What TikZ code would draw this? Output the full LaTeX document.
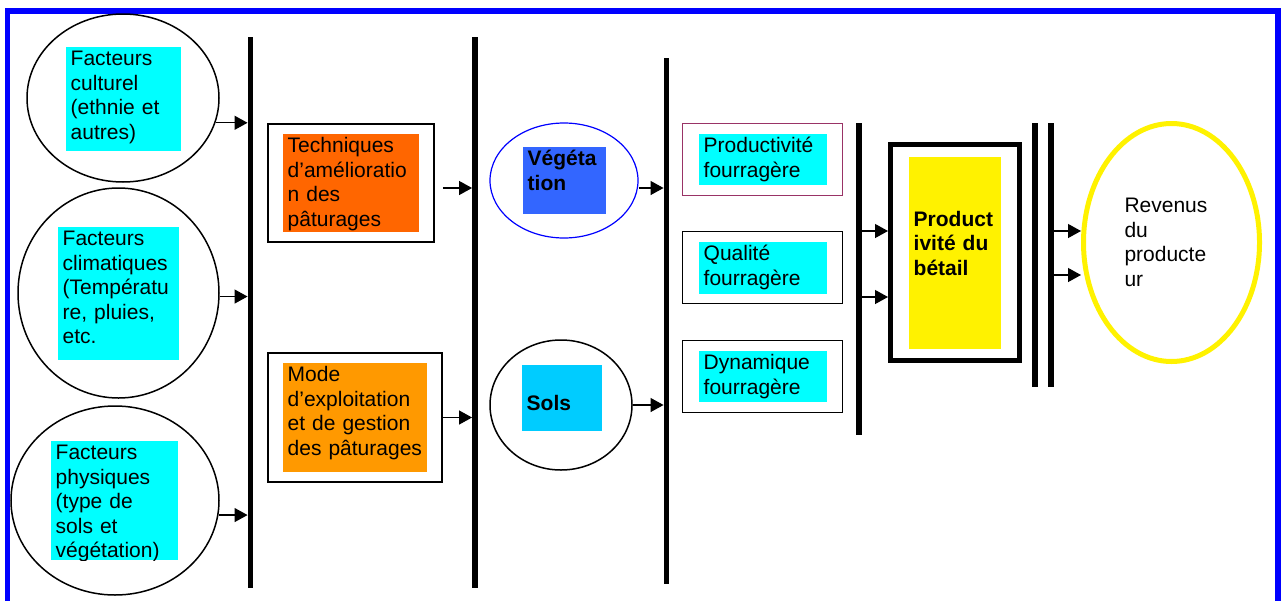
\documentclass[tikz,border=0pt]{standalone}
\usepackage{fontspec}
\setmainfont{Liberation Sans}
\usetikzlibrary{arrows.meta,shapes.geometric}
\definecolor{lblcyan}{RGB}{0,255,255}
\definecolor{techorange}{RGB}{255,102,0}
\definecolor{modeorange}{RGB}{255,153,0}
\definecolor{vegblue}{RGB}{51,102,255}
\definecolor{solsblue}{RGB}{0,204,255}
\definecolor{prodmaroon}{RGB}{153,51,102}
\def\diagfont{\fontsize{21}{24.5}\selectfont}
\hyphenpenalty=10000
\tikzset{
	lbl/.style={anchor=north west, fill=lblcyan, inner xsep=4.5pt, inner ysep=3.5pt, align=left, text height=15pt, font=\diagfont},
	boxframe/.style={draw, line width=1.8pt, inner sep=0pt},
	oval/.style={draw, ellipse, line width=1.5pt, inner sep=0pt},
	vbar/.style={fill=black, inner sep=0pt, minimum width=5.5pt},
	arr/.style={line width=1.2pt, -{Triangle[length=13pt,width=14pt]}}
}

\begin{document}
\begin{tikzpicture}[x=1pt,y=-1pt]
			%%%%% START %%%%%
			\useasboundingbox (0,0) rectangle (1284,600);
			\clip (0,0) rectangle (1284,600);
			
			\draw[line width=5.5pt, color=blue] (7.5,620) |- (1278,11) -- (1278,620);
			
			\node[oval, minimum width=192pt, minimum height=168pt] (cultell) at (123,98) {};
			\node[lbl, text width=106pt, text depth=82pt] (cult) at (66,47) {Facteurs\\culturel\\(ethnie et\\autres)};
			
			\node[oval, minimum width=201pt, minimum height=210pt] (climell) at (118.5,293) {};
			\node[lbl, text width=112pt, text depth=111pt] (clim) at (58,227) {Facteurs\\climatiques\\(Températu\\re, pluies,\\etc.};
			
			\node[oval, minimum width=208pt, minimum height=189pt] (physell) at (115,500.5) {};
			\begin{scope}
				\clip (51,441) rectangle (178,560);
				\node[lbl, text width=118pt, text depth=97pt] (phys) at (51,441) {Facteurs\\physiques\\(type de\\sols et\\végétation)};
			\end{scope}
			
			\node[vbar, minimum height=551pt] (b1) at (250.5,312.5) {};
			\node[vbar, minimum height=551pt] (b2) at (475,312.5) {};
			\node[vbar, minimum height=526pt] (b3) at (666.5,321) {};
			\node[vbar, minimum height=312pt] (b4) at (859,279) {};
			\node[vbar, minimum height=264pt] (b5) at (1035,255) {};
			\node[vbar, minimum height=264pt] (b6) at (1051,255) {};
			
			\node[boxframe, minimum width=166pt, minimum height=118pt] (techbox) at (351,183) {};
			\node[lbl, fill=techorange, text width=127pt, text depth=76pt] (tech) at (283,134) {Techniques\\d’amélioratio\\n des\\pâturages};
			
			\node[boxframe, minimum width=174pt, minimum height=129pt] (modebox) at (355,417.5) {};
			\node[lbl, fill=modeorange, text width=135pt, text depth=87pt] (mode) at (283,363) {Mode\\d’exploitation\\et de gestion\\des pâturages};
			
			\node[oval, draw=blue, line width=1.2pt, minimum width=148pt, minimum height=115pt] (vegell) at (564,180.5) {};
			\node[lbl, fill=vegblue, font=\diagfont\bfseries, text width=74pt, text depth=45pt] (veg) at (523,147) {Végéta\\tion};
			
			\node[oval, minimum width=142pt, minimum height=130pt] (solsell) at (561,405) {};
			\node[lbl, fill=solsblue, font=\diagfont\bfseries, text width=71pt, text height=41.6pt, text depth=17.4pt] (sols) at (522,365) {Sols};
			
			\node[boxframe, draw=prodmaroon, line width=1.3pt, minimum width=160pt, minimum height=72pt] (prodbox) at (762.5,159.5) {};
			\node[lbl, text width=119pt, text depth=29pt] (prod) at (699,134) {Productivité\\fourragère};
			\node[boxframe, minimum width=160pt, minimum height=72pt] (qualbox) at (762.5,267.5) {};
			\node[lbl, text width=119pt, text depth=30pt] (qual) at (699,242) {Qualité\\fourragère};
			\node[boxframe, minimum width=160pt, minimum height=72pt] (dynbox) at (762.5,376.5) {};
			\node[lbl, text width=119pt, text depth=29pt] (dyn) at (699,351) {Dynamique\\fourragère};
			
			\node[boxframe, line width=5pt, minimum width=129pt, minimum height=216pt] (betbox) at (955,252.5) {};
			\node[lbl, fill=yellow, font=\diagfont\bfseries, text width=83pt, text height=65.6pt, text depth=119.4pt] (bet) at (909,157) {Product\\ivité du\\bétail};
			
			\node[oval, draw=yellow, line width=5pt, minimum width=176pt, minimum height=238pt, font=\diagfont, text width=94pt, align=left] (rev) at (1171.5,242.5) {Revenus\\du\\producte\\ur};
			
			\coordinate (rowA) at (0,188);
			\coordinate (rowB) at (0,231);
			\coordinate (rowC) at (0,297);
			\coordinate (rowD) at (0,275);
			
			\draw[arr] (cultell.-15) -- (cultell.-15 -| b1.west);
			\draw[arr] (climell.-2) -- (climell.-2 -| b1.west);
			\draw[arr] (physell.-8) -- (physell.-8 -| b1.west);
			\draw[arr, shorten <=8pt] (techbox.east |- rowA) -- (b2.west |- rowA);
			\draw[arr] (modebox.east) -- (modebox.east -| b2.west);
			\draw[arr] (vegell.east |- rowA) -- (b3.west |- rowA);
			\draw[arr] (solsell.east) -- (solsell.east -| b3.west);
			\draw[arr] (b4.east |- rowB) -- (betbox.west |- rowB);
			\draw[arr] (b4.east |- rowC) -- (betbox.west |- rowC);
			\draw[arr] (b6.east |- rowB) -- (rev.west |- rowB);
			\draw[arr] (b6.east |- rowD) -- (rev.west |- rowD);
			
			%%%%% END %%%%%
\end{tikzpicture}
\end{document}
